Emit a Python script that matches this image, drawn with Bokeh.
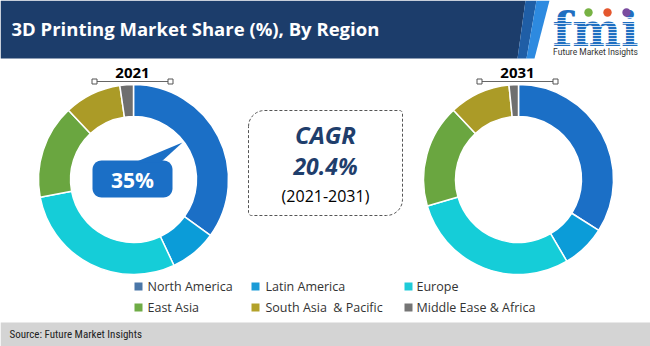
import numpy as np
from bokeh.plotting import figure
from bokeh.models import Range1d, ColumnDataSource
from bokeh.core.properties import value
from bokeh.embed import file_html
from bokeh.resources import INLINE

W, H = 650, 346

# ---------------- data ----------------
title = "3D Printing Market Share (%), By Region"
regions = ["North America", "Latin America", "Europe",
           "East Asia", "South Asia  & Pacific", "Middle Ease & Africa"]
years = ["2021", "2031"]
share_2021 = [35.0, 8.0, 29.0, 16.0, 9.7, 2.3]
share_2031 = [34.0, 7.5, 29.0, 17.5, 10.4, 1.6]
slice_colors = ["#1b6fc6", "#0b9cd8", "#15cdd8", "#6aa640", "#ab9b27", "#6f6f6f"]
legend_colors = ["#4a76a8", "#1a9bd7", "#1fcbd8", "#6fac46", "#b3a22a", "#757575"]
cagr_label = "CAGR"
cagr_value = "20.4%"
cagr_period = "(2021-2031)"
callout_text = "35%"
source_text = "Source: Future Market Insights"
logo_text = "fmi"
logo_sub = "Future Market Insights"


def Y(y):
    return H - y


p = figure(width=W, height=H, x_range=Range1d(0, W), y_range=Range1d(0, H),
           output_backend="svg", toolbar_location=None, min_border=0,
           x_axis_location=None, y_axis_location=None)
p.grid.visible = False
p.outline_line_color = None
p.background_fill_color = "white"
p.border_fill_color = "white"

# ---------------- header ----------------
p.patch([0, 525, 517, 0], [Y(0), Y(0), Y(58), Y(58)], fill_color="#1c3d6b", line_color=None)
p.patch([525, 536, 526, 517], [Y(0), Y(0), Y(58), Y(58)], fill_color="#1f5ea6", line_color=None)
p.patch([536, 549, 534, 526], [Y(0), Y(0), Y(58), Y(58)], fill_color="#2d8ae0", line_color=None)
p.text(x=[11], y=[Y(28)], text=[title], text_font=value("Open Sans"), text_font_size="18.5px",
       text_font_style="bold", text_color="white", text_align="left", text_baseline="middle")

# logo
p.text(x=[595], y=[Y(29)], text=[logo_text], text_font=value("DejaVu Serif"), text_font_size="46px",
       text_font_style="bold", text_color="#1f6fc1", text_align="center", text_baseline="middle")
for yy in np.arange(17, 47, 3.0):
    p.line([550, 640], [Y(yy), Y(yy)], line_color="white", line_width=0.8)
p.circle(x=[588, 607, 626], y=[Y(12), Y(12), Y(12)], radius=4.2,
         fill_color=["#77b244", "#e4572e", "#7a4c9f"], line_color=None)
p.text(x=[595], y=[Y(51)], text=[logo_sub], text_font=value("Roboto"), text_font_size="8.5px",
       text_color="#333333", text_align="center", text_baseline="middle")


# ---------------- donuts ----------------
def donut(cx, cy, shares):
    s = np.array(shares, dtype=float)
    s = s / s.sum()
    cum = np.concatenate([[0.0], np.cumsum(s)])
    src = ColumnDataSource(dict(start=np.pi / 2 - 2 * np.pi * cum[:-1],
                                end=np.pi / 2 - 2 * np.pi * cum[1:],
                                color=slice_colors))
    p.annular_wedge(x=cx, y=Y(cy), inner_radius=63, outer_radius=95,
                    start_angle="start", end_angle="end", direction="clock",
                    fill_color="color", line_color="white", line_width=1.5, source=src)


donut(133, 179, share_2021)
donut(518, 179, share_2031)


def year_label(cx, x0, x1, label):
    p.line([x0, x1], [Y(81), Y(81)], line_color="#666666", line_width=1)
    p.rect(x=[x0, x1], y=[Y(81), Y(81)], width=5, height=5, fill_color="white",
           line_color="#555555", line_width=1)
    p.text(x=[cx], y=[Y(72)], text=[label], text_font=value("Open Sans"), text_font_size="15px",
           text_font_style="bold", text_color="black", text_align="center", text_baseline="middle")


year_label(132, 94, 170, years[0])
year_label(517, 479, 555, years[1])


# ---------------- rounded shapes ----------------
def rrect(x0, y0, x1, y1, radii):
    tl, tr, br, bl = radii
    xs, ys = [], []

    def arc(cx, cy, r, a0, a1):
        for a in np.linspace(np.radians(a0), np.radians(a1), 10):
            xs.append(cx + r * np.cos(a))
            ys.append(Y(cy + r * np.sin(a)))

    arc(x0 + tl, y0 + tl, tl, 180, 270)
    arc(x1 - tr, y0 + tr, tr, 270, 360)
    arc(x1 - br, y1 - br, br, 0, 90)
    arc(x0 + bl, y1 - bl, bl, 90, 180)
    xs.append(xs[0])
    ys.append(ys[0])
    return xs, ys


# callout 35%
cx_, cy_ = rrect(92, 160, 172, 197, (9, 9, 9, 9))
p.patch(cx_, cy_, fill_color="#1b6fc6", line_color=None)
p.patch([134, 160, 182], [Y(162), Y(162), Y(142)], fill_color="#1b6fc6", line_color=None)
p.text(x=[132], y=[Y(179)], text=[callout_text], text_font=value("Open Sans"), text_font_size="21px",
       text_font_style="bold", text_color="white", text_align="center", text_baseline="middle")

# CAGR box
bx, by = rrect(248, 110, 402, 215, (16, 3, 16, 3))
p.line(bx, by, line_color="#555555", line_width=1, line_dash="3 2")
p.text(x=[325], y=[Y(134)], text=[cagr_label], text_font=value("Open Sans"), text_font_size="24px",
       text_font_style="bold italic", text_color="#1f3e6c", text_align="center", text_baseline="middle")
p.text(x=[325], y=[Y(165)], text=[cagr_value], text_font=value("Open Sans"), text_font_size="23px",
       text_font_style="bold italic", text_color="#1f3e6c", text_align="center", text_baseline="middle")
p.text(x=[325], y=[Y(195)], text=[cagr_period], text_font=value("Open Sans"), text_font_size="16px",
       text_color="black", text_align="center", text_baseline="middle")

# ---------------- legend ----------------
sq_x = [138, 255, 408]
tx_x = [147, 265, 416]
row_y = [286, 307]
lx, ly, tx, ty = [], [], [], []
for i, name in enumerate(regions):
    c, r = i % 3, i // 3
    lx.append(sq_x[c]); ly.append(Y(row_y[r]))
    tx.append(tx_x[c]); ty.append(Y(row_y[r]))
p.rect(x=lx, y=ly, width=8, height=8, fill_color=legend_colors, line_color=None)
p.text(x=tx, y=ty, text=[r.replace("  ", " \u00a0") for r in regions], text_font=value("Open Sans"),
       text_font_size="12.5px", text_color="#333333", text_align="left", text_baseline="middle")

# ---------------- source bar ----------------
p.quad(left=[0], right=[W], top=[Y(322)], bottom=[Y(346)], fill_color="#d4d4d4", line_color=None)
p.text(x=[9], y=[Y(334)], text=[source_text], text_font=value("Liberation Sans Narrow, Roboto Condensed, Roboto"),
       text_font_size="11px", text_color="#222222", text_align="left", text_baseline="middle")

open("out.html", "w").write(file_html(p, INLINE))
